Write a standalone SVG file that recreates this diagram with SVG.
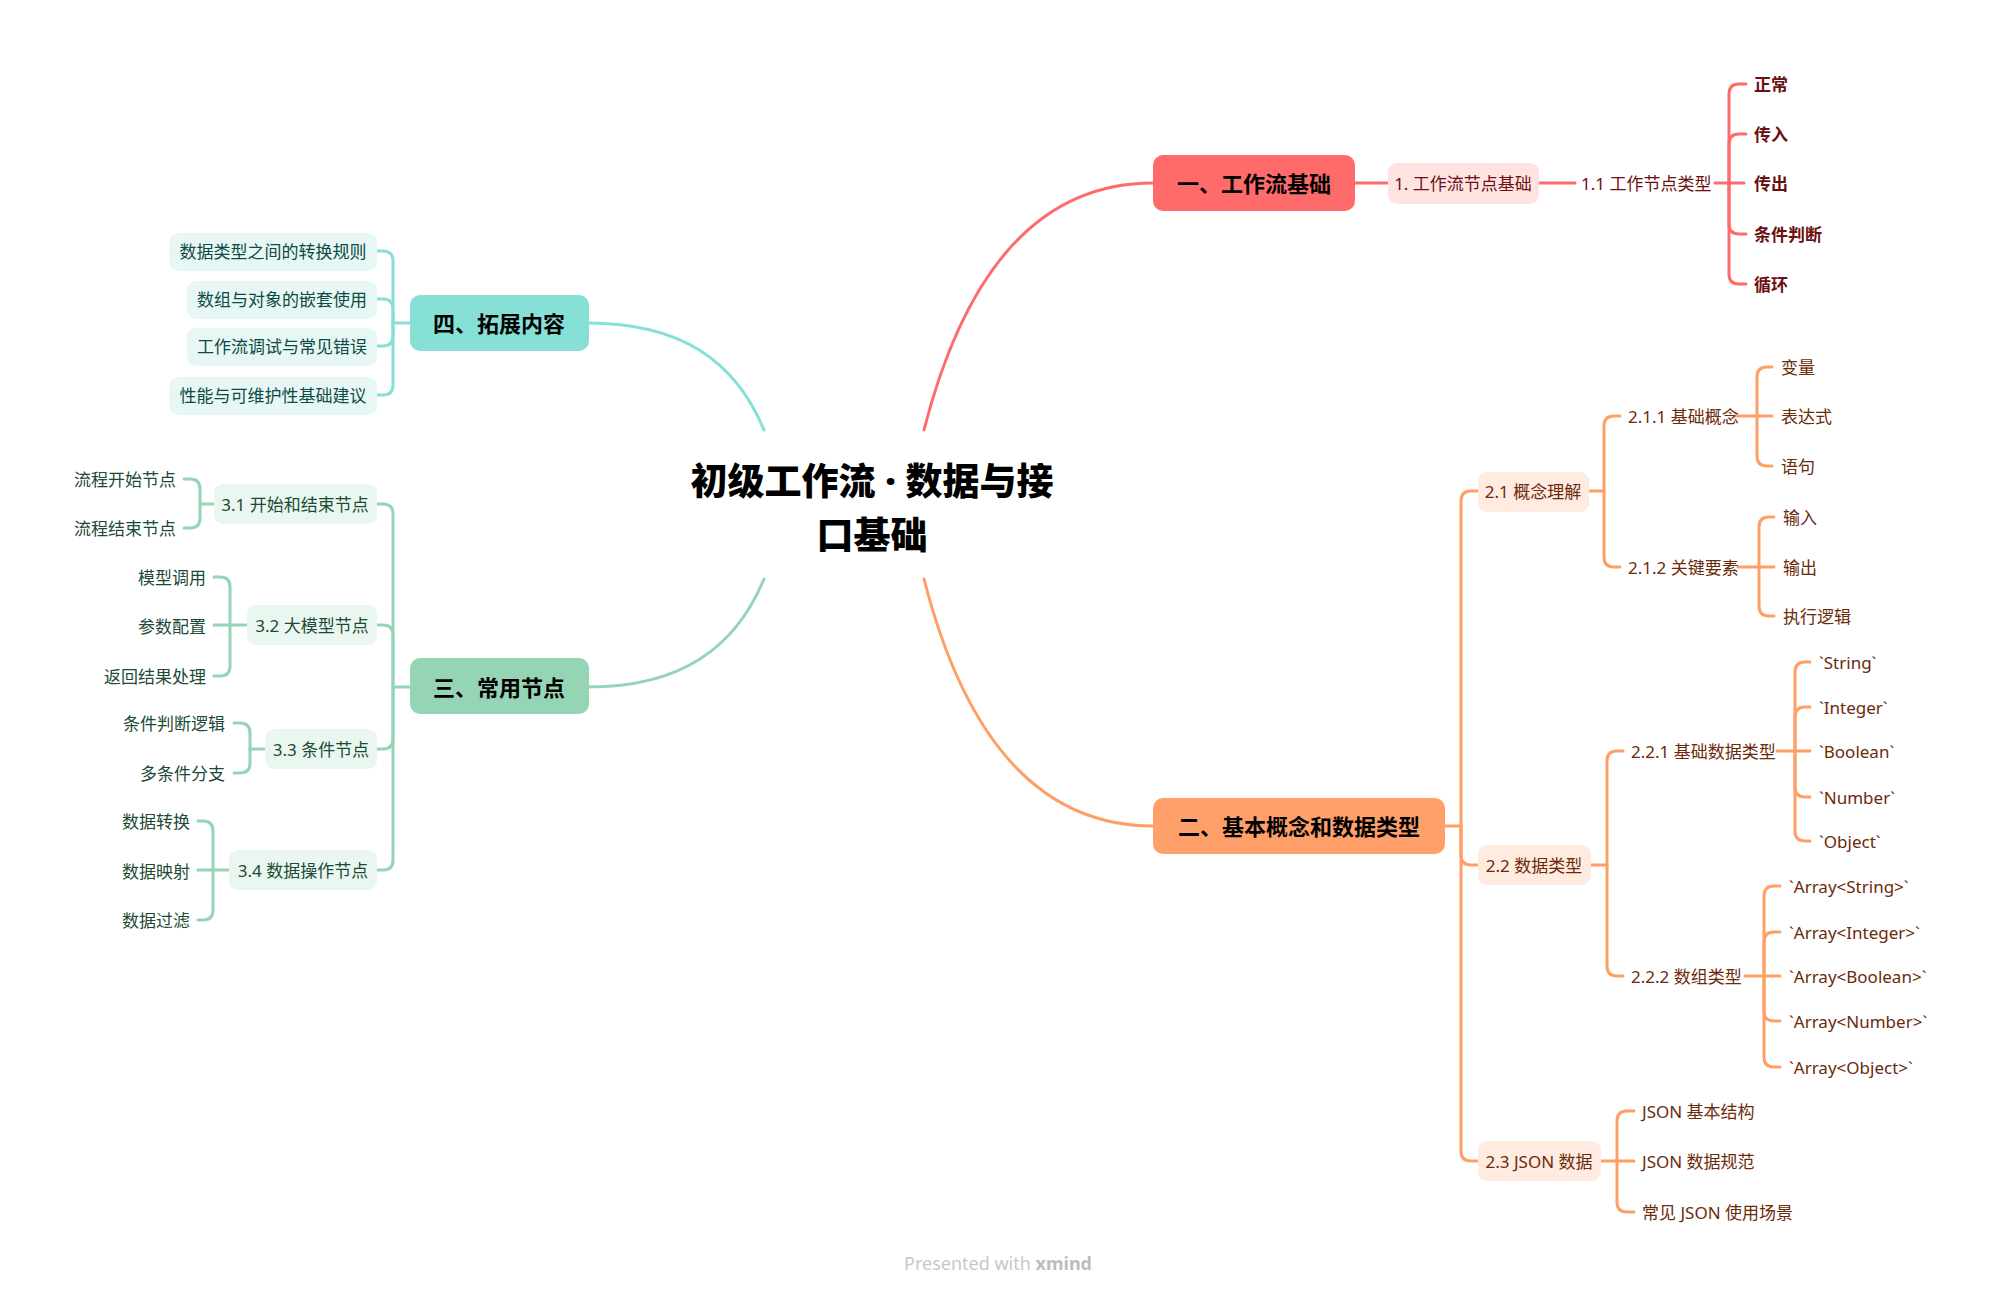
<svg xmlns="http://www.w3.org/2000/svg" width="1996" height="1295" viewBox="0 0 1996 1295">
<style>
text{font-family:"Noto Sans","Noto Sans CJK SC",sans-serif;dominant-baseline:central}
.ln{fill:none;stroke-width:3;stroke-linecap:round}
.r{stroke:#FF6B6B}.o{stroke:#FF9F66}.g{stroke:#96D4B6}.t{stroke:#86E0D6}
.main{font-size:22px;font-weight:700;fill:#000;text-anchor:middle}
.title{font-size:37px;font-weight:900;fill:#000;text-anchor:middle}
.sub{font-size:17px}
.tr{fill:#6B1010}.to{fill:#6B2A0B}.tg{fill:#1C4A35}.tt{fill:#0E4A43}
.b{font-weight:700}
.mid{text-anchor:middle}.end{text-anchor:end}
</style>
<rect width="1996" height="1295" fill="#fff"/>
<g id="connectors">
<path class="ln r" d="M924 430 C965 270 1040 183 1153 183"/>
<path class="ln o" d="M924 579 C965 739 1040 826 1153 826"/>
<path class="ln t" d="M764 430 C735 360 680 323 588 323"/>
<path class="ln g" d="M764 579 C735 649 680 687 588 687"/>
<path class="ln r" d="M1355 183 H1388"/>
<path class="ln r" d="M1539 183 H1575"/>
<path class="ln r" d="M1715 183 H1744"/>
<path class="ln r" d="M1729 183 V94 Q1729 84 1739 84 H1746"/>
<path class="ln r" d="M1729 183 V144 Q1729 134 1739 134 H1746"/>
<path class="ln r" d="M1729 183 V224 Q1729 234 1739 234 H1746"/>
<path class="ln r" d="M1729 183 V274 Q1729 284 1739 284 H1746"/>
<path class="ln o" d="M1445 826 H1461 V501 Q1461 491 1471 491 H1478"/>
<path class="ln o" d="M1461 826 V855 Q1461 865 1471 865 H1478"/>
<path class="ln o" d="M1461 826 V1151 Q1461 1161 1471 1161 H1478"/>
<path class="ln o" d="M1589 491 H1604 V426 Q1604 416 1614 416 H1620"/>
<path class="ln o" d="M1604 491 V557 Q1604 567 1614 567 H1620"/>
<path class="ln o" d="M1735 416 H1772"/>
<path class="ln o" d="M1757 416 V377 Q1757 367 1767 367 H1772"/>
<path class="ln o" d="M1757 416 V456 Q1757 466 1767 466 H1772"/>
<path class="ln o" d="M1738 567 H1774"/>
<path class="ln o" d="M1759 567 V527 Q1759 517 1769 517 H1774"/>
<path class="ln o" d="M1759 567 V606 Q1759 616 1769 616 H1774"/>
<path class="ln o" d="M1591 865 H1607 V761 Q1607 751 1617 751 H1623"/>
<path class="ln o" d="M1607 865 V966 Q1607 976 1617 976 H1623"/>
<path class="ln o" d="M1777 751 H1810"/>
<path class="ln o" d="M1795 751 V672 Q1795 662 1805 662 H1810"/>
<path class="ln o" d="M1795 751 V717 Q1795 707 1805 707 H1810"/>
<path class="ln o" d="M1795 751 V787 Q1795 797 1805 797 H1810"/>
<path class="ln o" d="M1795 751 V831 Q1795 841 1805 841 H1810"/>
<path class="ln o" d="M1745 976 H1780"/>
<path class="ln o" d="M1764 976 V896 Q1764 886 1774 886 H1780"/>
<path class="ln o" d="M1764 976 V942 Q1764 932 1774 932 H1780"/>
<path class="ln o" d="M1764 976 V1011 Q1764 1021 1774 1021 H1780"/>
<path class="ln o" d="M1764 976 V1057 Q1764 1067 1774 1067 H1780"/>
<path class="ln o" d="M1601 1161 H1634"/>
<path class="ln o" d="M1617 1161 V1121 Q1617 1111 1627 1111 H1634"/>
<path class="ln o" d="M1617 1161 V1202 Q1617 1212 1627 1212 H1634"/>
<path class="ln g" d="M410 687 H393 V514 Q393 504 383 504 H377"/>
<path class="ln g" d="M393 687 V635 Q393 625 383 625 H377"/>
<path class="ln g" d="M393 687 V739 Q393 749 383 749 H377"/>
<path class="ln g" d="M393 687 V860 Q393 870 383 870 H377"/>
<path class="ln g" d="M214 504 H200 V489 Q200 479 190 479 H184"/>
<path class="ln g" d="M200 504 V518 Q200 528 190 528 H184"/>
<path class="ln g" d="M247 625 H214"/>
<path class="ln g" d="M230 625 V587 Q230 577 220 577 H214"/>
<path class="ln g" d="M230 625 V666 Q230 676 220 676 H214"/>
<path class="ln g" d="M265 749 H250 V733 Q250 723 240 723 H234"/>
<path class="ln g" d="M250 749 V763 Q250 773 240 773 H234"/>
<path class="ln g" d="M229 870 H198"/>
<path class="ln g" d="M213 870 V831 Q213 821 203 821 H198"/>
<path class="ln g" d="M213 870 V910 Q213 920 203 920 H198"/>
<path class="ln t" d="M410 323 H393 V261 Q393 251 383 251 H377"/>
<path class="ln t" d="M393 323 V309 Q393 299 383 299 H377"/>
<path class="ln t" d="M393 323 V336 Q393 346 383 346 H377"/>
<path class="ln t" d="M393 323 V385 Q393 395 383 395 H377"/>
</g>
<g id="root">
<text class="title" x="872" y="480">初级工作流 · 数据与接</text>
<text class="title" x="872" y="534">口基础</text>
</g>
<g id="n1"><rect x="1153" y="155" width="202" height="56" rx="10" fill="#FF6B6B"/><text class="main" x="1254" y="183">一、工作流基础</text></g>
<g id="n1-1"><rect x="1388" y="163" width="151" height="41" rx="9" fill="#FFE3E3"/><text class="sub tr mid" x="1463" y="183">1. 工作流节点基础</text></g>
<g id="n1-1-1"><text class="sub tr" x="1581" y="183">1.1 工作节点类型</text></g>
<g id="n1-leaves">
<text class="sub tr b" x="1754" y="84">正常</text>
<text class="sub tr b" x="1754" y="134">传入</text>
<text class="sub tr b" x="1754" y="183">传出</text>
<text class="sub tr b" x="1754" y="234">条件判断</text>
<text class="sub tr b" x="1754" y="284">循环</text>
</g>
<g id="n2"><rect x="1153" y="798" width="292" height="56" rx="10" fill="#FFA06B"/><text class="main" x="1299" y="826">二、基本概念和数据类型</text></g>
<g id="n2-1"><rect x="1478" y="472" width="111" height="40" rx="9" fill="#FFEBDF"/><text class="sub to mid" x="1533" y="491">2.1 概念理解</text></g>
<g id="n2-2"><rect x="1478" y="845" width="113" height="40" rx="9" fill="#FFEBDF"/><text class="sub to mid" x="1534" y="865">2.2 数据类型</text></g>
<g id="n2-3"><rect x="1478" y="1141" width="123" height="40" rx="9" fill="#FFEBDF"/><text class="sub to mid" x="1539" y="1161">2.3 JSON 数据</text></g>
<g id="n2-1-x">
<text class="sub to" x="1628" y="416">2.1.1 基础概念</text>
<text class="sub to" x="1628" y="567">2.1.2 关键要素</text>
<text class="sub to" x="1781" y="367">变量</text>
<text class="sub to" x="1781" y="416">表达式</text>
<text class="sub to" x="1781" y="466">语句</text>
<text class="sub to" x="1783" y="517">输入</text>
<text class="sub to" x="1783" y="567">输出</text>
<text class="sub to" x="1783" y="616">执行逻辑</text>
</g>
<g id="n2-2-x">
<text class="sub to" x="1631" y="751">2.2.1 基础数据类型</text>
<text class="sub to" x="1631" y="976">2.2.2 数组类型</text>
<text class="sub to" x="1819" y="662">`String`</text>
<text class="sub to" x="1819" y="707">`Integer`</text>
<text class="sub to" x="1819" y="751">`Boolean`</text>
<text class="sub to" x="1819" y="797">`Number`</text>
<text class="sub to" x="1819" y="841">`Object`</text>
<text class="sub to" x="1789" y="886">`Array&lt;String&gt;`</text>
<text class="sub to" x="1789" y="932">`Array&lt;Integer&gt;`</text>
<text class="sub to" x="1789" y="976">`Array&lt;Boolean&gt;`</text>
<text class="sub to" x="1789" y="1021">`Array&lt;Number&gt;`</text>
<text class="sub to" x="1789" y="1067">`Array&lt;Object&gt;`</text>
</g>
<g id="n2-3-x">
<text class="sub to" x="1642" y="1111">JSON 基本结构</text>
<text class="sub to" x="1642" y="1161">JSON 数据规范</text>
<text class="sub to" x="1642" y="1212">常见 JSON 使用场景</text>
</g>
<g id="n3"><rect x="410" y="658" width="179" height="56" rx="10" fill="#96D4B6"/><text class="main" x="499" y="687">三、常用节点</text></g>
<g id="n3-1"><rect x="214" y="484" width="163" height="40" rx="9" fill="#EAF7F0"/><text class="sub tg mid" x="295" y="504">3.1 开始和结束节点</text></g>
<g id="n3-2"><rect x="247" y="605" width="130" height="40" rx="9" fill="#EAF7F0"/><text class="sub tg mid" x="312" y="625">3.2 大模型节点</text></g>
<g id="n3-3"><rect x="265" y="729" width="112" height="40" rx="9" fill="#EAF7F0"/><text class="sub tg mid" x="321" y="749">3.3 条件节点</text></g>
<g id="n3-4"><rect x="229" y="850" width="148" height="40" rx="9" fill="#EAF7F0"/><text class="sub tg mid" x="303" y="870">3.4 数据操作节点</text></g>
<g id="n3-leaves">
<text class="sub tg end" x="176" y="479">流程开始节点</text>
<text class="sub tg end" x="176" y="528">流程结束节点</text>
<text class="sub tg end" x="206" y="577">模型调用</text>
<text class="sub tg end" x="206" y="626">参数配置</text>
<text class="sub tg end" x="206" y="676">返回结果处理</text>
<text class="sub tg end" x="225" y="723">条件判断逻辑</text>
<text class="sub tg end" x="225" y="773">多条件分支</text>
<text class="sub tg end" x="190" y="821">数据转换</text>
<text class="sub tg end" x="190" y="871">数据映射</text>
<text class="sub tg end" x="190" y="920">数据过滤</text>
</g>
<g id="n4"><rect x="410" y="295" width="179" height="56" rx="10" fill="#86E0D6"/><text class="main" x="499" y="323">四、拓展内容</text></g>
<g id="n4-x">
<rect x="169" y="233" width="208" height="38" rx="9" fill="#E6F7F5"/><text class="sub tt mid" x="273" y="251">数据类型之间的转换规则</text>
<rect x="187" y="281" width="190" height="38" rx="9" fill="#E6F7F5"/><text class="sub tt mid" x="282" y="299">数组与对象的嵌套使用</text>
<rect x="187" y="328" width="190" height="38" rx="9" fill="#E6F7F5"/><text class="sub tt mid" x="282" y="346">工作流调试与常见错误</text>
<rect x="169" y="377" width="208" height="38" rx="9" fill="#E6F7F5"/><text class="sub tt mid" x="273" y="395">性能与可维护性基础建议</text>
</g>
<text x="998" y="1263" text-anchor="middle" style="font-family:'Noto Sans',sans-serif;font-size:18px;fill:#C8C8C8">Presented with <tspan font-weight="700" fill="#BDBDBD">xmind</tspan></text>
</svg>
